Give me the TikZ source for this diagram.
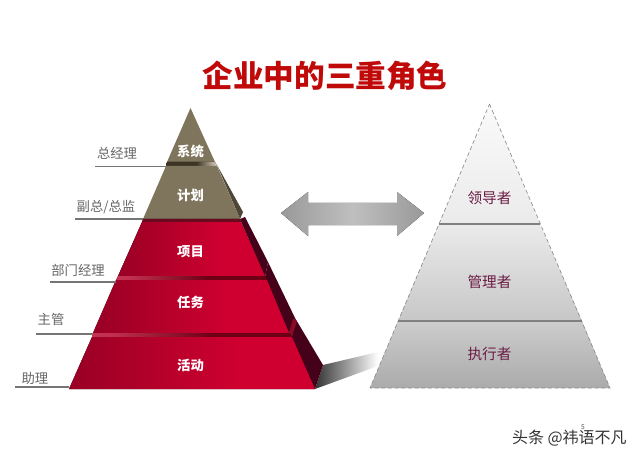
\documentclass[tikz,border=0pt]{standalone}
\usepackage{xcolor}
\usepackage{fontspec}
\setmainfont{Noto Sans CJK SC}

\definecolor{titlered}{HTML}{C00A0A}
\definecolor{rolepurple}{HTML}{6B1D45}
\definecolor{sidedark}{HTML}{45001A}
\definecolor{labelgray}{HTML}{666666}
\definecolor{stone}{HTML}{7F745C}
\definecolor{stonedark}{HTML}{4E4636}
\definecolor{redbase}{HTML}{C0052C}
\definecolor{reddeep}{HTML}{9A0025}
\definecolor{redbright}{HTML}{CF0030}
\definecolor{redglow}{HTML}{E0405A}
\definecolor{redsoft}{HTML}{C03050}
\definecolor{redshade}{HTML}{6E0016}
\definecolor{redjoint}{HTML}{8A0A28}
\definecolor{stoneglow}{HTML}{A8303C}
\definecolor{stonelow}{HTML}{6A0A20}
\definecolor{stonetop}{HTML}{3E3424}
\definecolor{stonelight}{HTML}{D8D0C0}

% red metal look, scaled to each tier
\pgfdeclarehorizontalshading{redmetal}{100bp}{
  color(0bp)=(redbase);
  color(26bp)=(reddeep);
  color(60bp)=(redbright);
  color(85bp)=(redbright);
  color(100bp)=(redbase)}
\pgfdeclarehorizontalshading{redgap}{100bp}{
  color(0bp)=(redglow);
  color(30bp)=(redsoft);
  color(55bp)=(redshade);
  color(100bp)=(redshade)}
\pgfdeclarehorizontalshading{lowgap}{100bp}{
  color(0bp)=(stoneglow);
  color(25bp)=(stonelow);
  color(100bp)=(stonelow)}
\pgfdeclarehorizontalshading{stonegap}{100bp}{
  color(0bp)=(stonetop);
  color(55bp)=(stonetop);
  color(75bp)=(stonelight);
  color(100bp)=(stonetop)}
\pgfdeclarehorizontalshading{grayarrow}{100bp}{
  color(0bp)=(black!55);
  color(50bp)=(black!25);
  color(100bp)=(black!55)}

\tikzset{
  redtier/.style={shading=redmetal},
  redband/.style={shading=redgap},
  lowband/.style={shading=lowgap},
  stonetier/.style={fill=stone},
  stoneband/.style={shading=stonegap},
  redside/.style={fill=sidedark},
  stoneside/.style={fill=stonedark},
  tiertext/.style={text=white,font=\bfseries\fontsize{10}{12}\selectfont,inner sep=0pt},
  roletext/.style={text=rolepurple,font=\fontsize{11}{13}\selectfont,inner sep=0pt},
  ranktext/.style={text=labelgray,font=\fontsize{10}{12}\selectfont,inner sep=0pt},
  rankline/.style={draw=labelgray!90,line width=0.8pt},
  roletier/.style={draw=black!45,densely dashed,line width=0.5pt},
  rolediv/.style={draw=black!50,line width=1pt}
}

\begin{document}
\begin{tikzpicture}[x=0.75pt,y=-0.75pt]
\useasboundingbox (0,0) rectangle (640,460);

% shadow
\shade[left color=black!80,middle color=black!40,right color=white] (315,389) -- (323,365) -- (378,352) -- (378,366) -- cycle;

% left pyramid
\fill[stoneside] (217,165) -- (243,212) -- (240,219) -- cycle;
\fill[redside] (240,219) -- (245,217) -- (268,262) -- (265,277) -- cycle;
\fill[redside] (265,277) -- (268,262) -- (295,318) -- (289,333) -- cycle;
\fill[redside] (289,333) -- (295,318) -- (323,365) -- (315,389) -- cycle;
\fill[redjoint] (289,333) -- (293,319) -- (297,321) -- (292,337) -- cycle;

\fill[stonetier] (190.5,108) -- (215,162) -- (167,162) -- cycle;
\fill[stoneband] (167,162) -- (215,162) -- (217,166) -- (166,166) -- cycle;
\fill[stonetier] (166,166) -- (217,166) -- (240,219) -- (143,219) -- cycle;

\fill[lowband] (143,219) -- (240,219) -- (241,222) -- (142,222) -- cycle;
\fill[redtier] (142,222) -- (241,222) -- (265,276) -- (118,276) -- cycle;
\fill[redband] (118,276) -- (265,276) -- (267,280) -- (116,280) -- cycle;
\fill[redtier] (116,280) -- (267,280) -- (289,333) -- (93,333) -- cycle;
\fill[redband] (93,333) -- (289,333) -- (292,337) -- (92,337) -- cycle;
\fill[redtier] (92,337) -- (292,337) -- (315,389) -- (69,389) -- cycle;

\node[tiertext] (sys) at (190.5,151) {系统};
\node[tiertext] (plan) at (190.5,195) {计划};
\node[tiertext] (proj) at (190.5,252) {项目};
\node[tiertext] (task) at (190.5,302) {任务};
\node[tiertext] (act) at (190.5,365) {活动};

% rank labels and their lines
\node[ranktext] (gm) at (117,153) {总经理};
\node[ranktext] (vp) at (106,207) {副总/总监};
\node[ranktext] (dm) at (78,270) {部门经理};
\node[ranktext] (sup) at (51,319) {主管};
\node[ranktext] (asst) at (35,378) {助理};

\coordinate (gmA) at (95,166.5);
\coordinate (gmB) at (167,166.5);
\coordinate (vpA) at (75,219);
\coordinate (vpB) at (143,219);
\coordinate (dmA) at (50,282);
\coordinate (dmB) at (116,282);
\coordinate (supA) at (36,334);
\coordinate (supB) at (93,334);
\coordinate (asstA) at (15,387);
\coordinate (asstB) at (69,387);
\draw[rankline] (gmA) -- (gmB);
\draw[rankline] (vpA) -- (vpB);
\draw[rankline] (dmA) -- (dmB);
\draw[rankline] (supA) -- (supB);
\draw[rankline] (asstA) -- (asstB);

% arrow between the pyramids
\fill[shading=grayarrow] (281,213) -- (308,192) -- (308,203) -- (397,203) -- (397,192) -- (424,213) -- (397,236) -- (397,225) -- (308,225) -- (308,236) -- cycle;

% right pyramid
\shade[top color=white!98!black,bottom color=black!8] (489.5,104) -- (540,224) -- (439,224) -- cycle;
\shade[top color=black!8,bottom color=black!22] (439,224) -- (540,224) -- (582,321) -- (398,321) -- cycle;
\shade[top color=black!20,bottom color=black!33] (398,321) -- (582,321) -- (610,388) -- (370,388) -- cycle;
\draw[roletier] (489.5,104) -- (610,388) -- (370,388) -- cycle;
\coordinate (divA) at (439,224);
\coordinate (divB) at (540,224);
\coordinate (divC) at (398,321);
\coordinate (divD) at (582,321);
\draw[rolediv] (divA) -- (divB);
\draw[rolediv] (divC) -- (divD);

\node[roletext] (lead) at (489.5,198) {领导者};
\node[roletext] (manage) at (489.5,282) {管理者};
\node[roletext] (exec) at (489.5,354) {执行者};

% title and footer
\node[text=titlered,font=\bfseries\fontsize{23}{27}\selectfont,inner sep=0pt] (heading) at (325,76) {企业中的三重角色};
\node[text=black!80,font=\fontsize{12}{14}\selectfont,inner sep=0pt,anchor=east] (mark) at (627,438) {头条 @祎语不凡};
\node[text=black!70,font=\fontsize{5}{6}\selectfont,inner sep=0pt] (pageno) at (583,427) {5};
\end{tikzpicture}
\end{document}
